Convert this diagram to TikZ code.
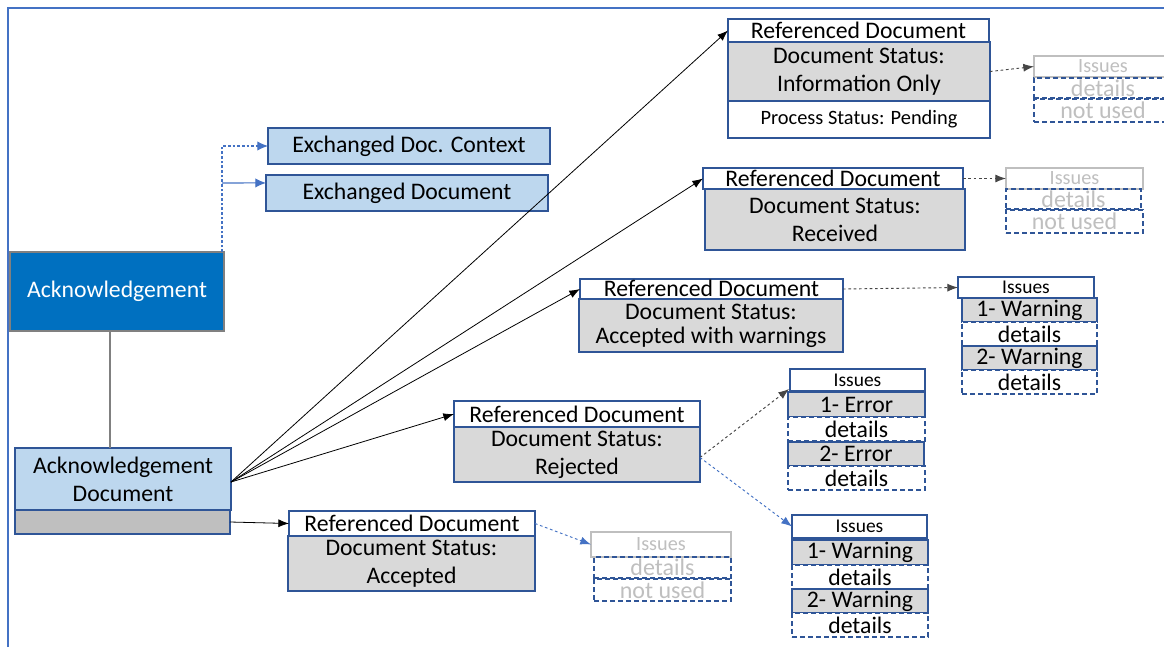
\documentclass[tikz,border=0pt]{standalone}
\usepackage{fontspec}
\setmainfont{Carlito}
\usetikzlibrary{arrows.meta,calc}
\definecolor{bdr}{RGB}{47,85,151}
\definecolor{lblue}{RGB}{189,215,238}
\definecolor{ackblue}{RGB}{0,112,192}
\definecolor{gfill}{RGB}{217,217,217}
\definecolor{barfill}{RGB}{191,191,191}
\definecolor{ghost}{RGB}{191,191,191}
\definecolor{framec}{RGB}{68,114,196}
\definecolor{conblue}{RGB}{68,114,196}
\definecolor{dotgray}{RGB}{70,70,70}
\newcommand\mybox[6]{\node[#1, minimum width={#4*0.75pt}, minimum height={#5*0.75pt}] (#2) at (#3) {#6};}
\begin{document}
\begin{tikzpicture}[x=0.75pt,y=-0.75pt,
  base/.style={inner sep=0pt, outer sep=0pt, anchor=north west, align=center, font=\fontsize{17.8}{21}\selectfont},
  wbox/.style={base, draw=bdr, line width=1.1pt, fill=white},
  gbox/.style={base, draw=bdr, line width=1.1pt, fill=gfill},
  dbox/.style={base, draw=bdr, line width=1.1pt, fill=white, dash pattern=on 4pt off 2pt},
  bbox/.style={base, draw=bdr, line width=1.1pt, fill=lblue},
  sbox/.style={wbox, font=\fontsize{14.6}{17}\selectfont},
  ghostis/.style={base, draw=ghost, line width=1.1pt, fill=white, text=ghost, font=\fontsize{15.2}{17}\selectfont},
  ghostd/.style={base, draw=bdr, line width=1.1pt, dash pattern=on 4pt off 2pt, text=ghost, font=\fontsize{18}{20}\selectfont},
  fan/.style={draw=black, line width=0.6pt, -{Latex[length=8pt,width=6pt]}},
  dotc/.style={draw=dotgray, line width=0.7pt, dash pattern=on 2pt off 2pt, -{Latex[length=8pt,width=6pt]}},
  dotb/.style={draw=conblue, line width=0.7pt, dash pattern=on 2pt off 2pt, -{Latex[length=8pt,width=6pt]}},
]
\useasboundingbox (0,0) rectangle (1164,647);
\fill[white] (0,0) rectangle (1164,647);
\draw[framec, line width=1.3pt] (8,647) -- (8,8) -- (1164,8);

% left part
\mybox{bbox}{ctx}{268,128}{282}{36}{Exchanged Doc. Context}
\mybox{bbox}{exd}{266,175}{282}{36}{Exchanged Document}
\mybox{base, draw=gray, line width=0.8pt, fill=ackblue, text=white}{ack}{10,252}{214}{79}{Acknowledgement}
\mybox{bbox}{ackdoc}{15,448}{216}{62}{Acknowledgement\\Document}
\mybox{base, draw=bdr, line width=1.1pt, fill=barfill}{bar}{15,510}{215}{24}{}

% info only
\mybox{wbox}{t1}{728,19}{261}{23}{Referenced Document}
\mybox{gbox}{s1}{728,42}{262}{59}{Document Status:\\Information Only}
\mybox{wbox, font=\fontsize{15.3}{18}\selectfont}{p1}{728,101}{262}{37}{Process Status: Pending}
\mybox{ghostis}{g1i}{1034,56}{138}{21}{Issues}
\mybox{ghostd}{g1d}{1034,78}{138}{20}{details}
\mybox{ghostd}{g1n}{1034,99}{138}{23}{not used}

% received
\mybox{wbox}{t2}{703,168}{260}{21}{Referenced Document}
\mybox{gbox}{s2}{705,189}{260}{61}{Document Status:\\Received}
\mybox{ghostis}{g2i}{1006,168}{137}{21}{Issues}
\mybox{ghostd}{g2d}{1006,189}{135}{20}{details}
\mybox{ghostd}{g2n}{1006,210}{137}{23}{not used}

% accepted with warnings
\mybox{wbox}{t3}{580,279}{263}{20}{\raisebox{1.5pt}{Referenced Document}}
\mybox{gbox, font=\fontsize{17.8}{20}\selectfont}{s3}{579,299}{264}{53}{\raisebox{-2pt}{Document Status:}\\Accepted with warnings}
\mybox{sbox}{i3}{958,277}{136}{21}{Issues}
\mybox{gbox}{w3a}{962,298}{135}{24}{1- Warning}
\mybox{dbox}{d3a}{962,322}{135}{24}{details}
\mybox{gbox}{w3b}{962,346}{135}{24}{2- Warning}
\mybox{dbox}{d3b}{962,370}{135}{24}{details}

% rejected
\mybox{wbox}{t4}{454,401}{246}{26}{Referenced Document}
\mybox{gbox}{s4}{454,427}{246}{55}{Document Status:\\Rejected}
\mybox{sbox}{i4a}{790,369}{135}{22}{Issues}
\mybox{gbox}{e4a}{788,392}{137}{25}{1- Error}
\mybox{dbox}{d4a}{788,417}{137}{24}{details}
\mybox{gbox}{e4b}{788,442}{136}{24}{2- Error}
\mybox{dbox}{d4b}{788,466}{137}{24}{details}

\mybox{sbox}{i4b}{792,515}{135}{23}{Issues}
\mybox{gbox}{w4a}{792,540}{136}{25}{1- Warning}
\mybox{dbox}{d4c}{792,565}{136}{24}{details}
\mybox{gbox}{w4b}{792,589}{136}{24}{2- Warning}
\mybox{dbox}{d4d}{792,613}{136}{24}{details}

% accepted
\mybox{wbox}{t5}{289,511}{246}{25}{Referenced Document}
\mybox{gbox}{s5}{288,536}{247}{55}{Document Status:\\Accepted}
\mybox{ghostis}{g5i}{591,532}{140}{25}{Issues}
\mybox{ghostd}{g5d}{594,557}{137}{21}{details}
\mybox{ghostd}{g5n}{594,579}{137}{22}{not used}

% connectors left
\coordinate (up) at ($(ack.north east)+(-2,0)$);
\coordinate (br) at (222,183);
\draw[conblue, line width=0.8pt, dash pattern=on 2pt off 1.5pt, -{Latex[length=8pt,width=7pt]}] (up) |- (ctx.west);
\draw[conblue, line width=0.8pt, -{Latex[length=8pt,width=7pt]}] (br) -- ($(exd.north west)!0.22!(exd.south west)$);
\coordinate (vt) at ($(ack.south)+(-7,0)$);
\draw[gray, line width=0.8pt] (vt) -- (vt |- ackdoc.north);

% fan
\coordinate (fo) at ($(ackdoc.east)+(0,3)$);
\draw[fan] (fo) -- (t1.west);
\draw[fan] (fo) -- (t2.west);
\draw[fan] (fo) -- (t3.west);
\draw[fan] (fo) -- (t4.west);
\draw[fan] (bar.east) -- (t5.west);

% issues connectors
\draw[dotc] (s1.east) -- (g1i.west);
\draw[dotc] (t2.east) -- (g2i.west);
\draw[dotc] (t3.east) -- (i3.west);
\coordinate (rj) at ($(s4.east)+(0,3)$);
\draw[dotc] (rj) -- ($(i4a.south west)+(-1,-2)$);
\draw[dotb] (rj) -- (i4b.west);
\draw[dotb] (t5.east) -- (g5i.west);
\end{tikzpicture}
\end{document}
